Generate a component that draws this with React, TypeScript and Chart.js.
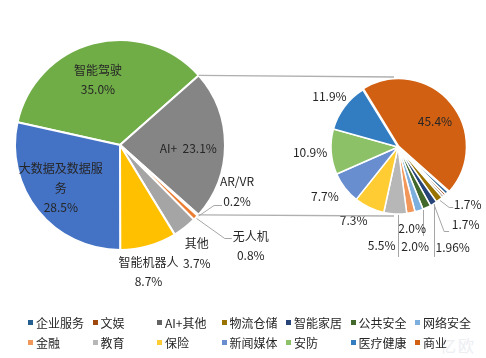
import React, { useEffect, useRef } from 'react';
import { Chart, registerables } from 'chart.js';

Chart.register(...registerables);

const FONT = '"Noto Sans CJK SC", "Noto Sans", sans-serif';

// ---------- data ----------
const mainCategories = ['智能驾驶', 'AI+', 'AR/VR', '无人机', '其他', '智能机器人', '大数据及数据服务'];
const mainValues = [35.0, 23.1, 0.2, 0.8, 3.7, 8.7, 28.5];
const mainColors = ['#70AD47', '#858585', '#5B9BD5', '#ED7D31', '#A5A5A5', '#FFC000', '#4472C4'];
const breakoutIndex = 1; // "AI+" is split into the secondary pie

const subCategories = ['企业服务', '文娱', 'AI+其他', '物流仓储', '智能家居', '公共安全', '网络安全', '金融', '教育', '保险', '新闻媒体', '安防', '医疗健康', '商业'];
const subValues = [0.8, 0.6, 0.54, 1.7, 1.7, 1.96, 2.0, 2.0, 5.5, 7.3, 7.7, 10.9, 11.9, 45.4];
const subColors = ['#255E91', '#9E480E', '#636363', '#997300', '#264478', '#43682B', '#7CAFDD', '#F1975A', '#B7B7B7', '#FFCD33', '#698ED0', '#8CC168', '#327DC2', '#D26012'];
const subShowLabel = [false, false, false, true, true, true, true, true, true, true, true, true, true, true];

// ---------- label layout (styles / placement only) ----------
type Leader = { type: 'e' | 'v'; ex: number; ey: number; h?: number };
type Place = { rf: number; dx: number; dy: number; inline?: boolean; wrap?: number; leader?: Leader } | null;

const mainLabelPlace: Place[] = [
  { rf: 0.65, dx: -5, dy: 1 },
  { rf: 0.65, dx: 0, dy: 3, inline: true },
  { rf: 1, dx: 39, dy: -24, leader: { type: 'e', ex: -15, ey: 13.5, h: 8 } },
  { rf: 1, dx: 55, dy: 28, leader: { type: 'e', ex: -19, ey: -7.5, h: 7 } },
  { rf: 1, dx: 12, dy: 26 },
  { rf: 1, dx: 0, dy: 26 },
  { rf: 0.65, dx: -6, dy: 0.5, wrap: 7 },
];

const subLabelPlace: Place[] = [
  null, null, null,
  { rf: 1, dx: 28.3, dy: 5.2, leader: { type: 'e', ex: -14.5, ey: 1.7, h: 4 } },
  { rf: 1, dx: 32.1, dy: 21.1, leader: { type: 'e', ex: -16.5, ey: 6, h: 5 } },
  { rf: 1, dx: 25.9, dy: 40.4, leader: { type: 'v', ex: -18.5, ey: 9 } },
  { rf: 1, dx: -6.9, dy: 17.4, leader: { type: 'v', ex: 11, ey: 8 } },
  { rf: 1, dx: 4.2, dy: 33.5 },
  { rf: 1, dx: -13.6, dy: 31.1, leader: { type: 'v', ex: 16.5, ey: 12 } },
  { rf: 1.3, dx: -7, dy: -5 },
  { rf: 1.3, dx: -4, dy: -4 },
  { rf: 1.3, dx: -1, dy: -1 },
  { rf: 1.28, dx: 0, dy: 0.6 },
  { rf: 0.66, dx: 3, dy: 3 },
];
const subOffsets = subValues.map((_, i) => (i === subValues.length - 1 ? 4 : 0));

const LH = 19.5;

function fmtSub(v: number): string {
  const tenth = Math.abs(v * 10 - Math.round(v * 10)) < 1e-6;
  return (tenth ? v.toFixed(1) : v.toFixed(2)) + '%';
}

function mainLines(i: number): string[] {
  const name = mainCategories[i];
  const pct = mainValues[i].toFixed(1) + '%';
  const p = mainLabelPlace[i];
  if (p && p.inline) return [name + '  ' + pct];
  const w = (p && p.wrap) || 99;
  const chars = Array.from(name);
  const out: string[] = [];
  for (let k = 0; k < chars.length; k += w) out.push(chars.slice(k, k + w).join(''));
  out.push(pct);
  return out;
}

function subLines(i: number): string[] {
  return subShowLabel[i] ? [fmtSub(subValues[i])] : [];
}

function makeLabelPlugin(id: string, getLines: (i: number) => string[], places: Place[]) {
  return {
    id,
    afterDatasetsDraw(chart: any) {
      const ctx: CanvasRenderingContext2D = chart.ctx;
      const meta = chart.getDatasetMeta(0);
      ctx.save();
      ctx.font = `12px ${FONT}`;
      ctx.textAlign = 'center';
      ctx.textBaseline = 'middle';
      meta.data.forEach((el: any, i: number) => {
        const p = places[i];
        const lines = getLines(i);
        if (!p || !lines.length) return;
        const { x, y, startAngle, endAngle, outerRadius } = el.getProps(['x', 'y', 'startAngle', 'endAngle', 'outerRadius'], true);
        const mid = (startAngle + endAngle) / 2;
        const ax = x + Math.cos(mid) * outerRadius * p.rf + p.dx;
        const ay = y + Math.sin(mid) * outerRadius * p.rf + p.dy;
        if (p.leader) {
          const L = p.leader;
          ctx.strokeStyle = '#a6a6a6';
          ctx.lineWidth = 1;
          ctx.beginPath();
          if (L.type === 'v') {
            const lx = Math.round(ax + L.ex) + 0.5;
            const dxc = lx - x;
            const y0 = y + Math.sqrt(Math.max(0, outerRadius * outerRadius - dxc * dxc)) + 1;
            ctx.moveTo(lx, y0);
            ctx.lineTo(lx, ay + L.ey);
          } else {
            const sx = x + Math.cos(mid) * (outerRadius + 1);
            const sy = y + Math.sin(mid) * (outerRadius + 1);
            const exx = ax + L.ex;
            const eyy = Math.round(ay + L.ey) + 0.5;
            ctx.moveTo(sx, sy);
            ctx.lineTo(exx - (L.h || 6), eyy);
            ctx.lineTo(exx, eyy);
          }
          ctx.stroke();
        }
        ctx.fillStyle = '#262626';
        lines.forEach((t, k) => {
          ctx.fillText(t, ax, ay + (k - (lines.length - 1) / 2) * LH);
        });
      });
      ctx.restore();
    },
  };
}

function makeConnectorPlugin(getSecondary: () => any) {
  return {
    id: 'connectors',
    afterDatasetsDraw(chart: any) {
      const sec = getSecondary();
      if (!sec) return;
      const arc = chart.getDatasetMeta(0).data[breakoutIndex];
      const s0 = sec.getDatasetMeta(0).data[0];
      if (!arc || !s0) return;
      const a = arc.getProps(['x', 'y', 'startAngle', 'endAngle', 'outerRadius'], true);
      const b = s0.getProps(['x', 'y', 'outerRadius'], true);
      const ctx: CanvasRenderingContext2D = chart.ctx;
      ctx.save();
      ctx.strokeStyle = '#b0b0b0';
      ctx.lineWidth = 1.3;
      ctx.beginPath();
      ctx.moveTo(a.x + Math.cos(a.startAngle) * a.outerRadius, a.y + Math.sin(a.startAngle) * a.outerRadius);
      ctx.lineTo(b.x - 4, b.y - b.outerRadius - 3);
      ctx.moveTo(a.x + Math.cos(a.endAngle) * a.outerRadius, a.y + Math.sin(a.endAngle) * a.outerRadius);
      ctx.lineTo(b.x - 4, b.y + b.outerRadius + 2);
      ctx.stroke();
      ctx.restore();
    },
  };
}

export default function App() {
  const leftRef = useRef<HTMLCanvasElement>(null);
  const rightRef = useRef<HTMLCanvasElement>(null);

  useEffect(() => {
    document.body.style.margin = '0';
    const right = new Chart(rightRef.current as HTMLCanvasElement, {
      type: 'pie',
      data: {
        labels: subCategories,
        datasets: [
          {
            data: subValues,
            backgroundColor: subColors,
            borderColor: '#ffffff',
            borderWidth: 1.5,
            offset: subOffsets,
          } as any,
        ],
      },
      options: {
        responsive: false,
        animation: false,
        events: [],
        rotation: 131.8,
        radius: 67,
        layout: { padding: { left: 310, right: 0, top: 0, bottom: 6 } },
        plugins: { legend: { display: false }, tooltip: { enabled: false } },
      } as any,
      plugins: [makeLabelPlugin('subLabels', subLines, subLabelPlace)],
    });
    const left = new Chart(leftRef.current as HTMLCanvasElement, {
      type: 'pie',
      data: {
        labels: mainCategories,
        datasets: [
          {
            data: mainValues,
            backgroundColor: mainColors,
            borderColor: '#ffffff',
            borderWidth: 2,
          } as any,
        ],
      },
      options: {
        responsive: false,
        animation: false,
        events: [],
        rotation: -77.5,
        radius: 105,
        layout: { padding: { left: 0, right: 246, top: 0, bottom: 10 } },
        plugins: { legend: { display: false }, tooltip: { enabled: false } },
      } as any,
      plugins: [makeConnectorPlugin(() => right), makeLabelPlugin('mainLabels', mainLines, mainLabelPlace)],
    });
    return () => {
      left.destroy();
      right.destroy();
    };
  }, []);

  return (
    <div style={{ position: 'relative', width: 486, height: 358, background: '#fff', fontFamily: FONT, overflow: 'hidden' }}>
      <canvas ref={rightRef} width={486} height={300} style={{ position: 'absolute', left: 0, top: 0 }} />
      <canvas ref={leftRef} width={486} height={300} style={{ position: 'absolute', left: 0, top: 0 }} />
      <div
        style={{
          position: 'absolute',
          left: 440,
          top: 333,
          fontSize: 16,
          color: '#eceef2',
          letterSpacing: 2,
        }}
      >
        亿欧
      </div>
      <div
        style={{
          position: 'absolute',
          left: 28,
          top: 313,
          display: 'grid',
          gridTemplateColumns: 'repeat(7, 64.5px)',
          gridAutoRows: '20px',
        }}
      >
        {subCategories.map((name, i) => (
          <div key={name} style={{ display: 'flex', alignItems: 'center', whiteSpace: 'nowrap', fontSize: 12, color: '#262626', lineHeight: '20px' }}>
            <span style={{ display: 'inline-block', width: 5, height: 5, background: subColors[i], marginRight: 3, marginTop: -1 }} />
            <span>{name}</span>
          </div>
        ))}
      </div>
    </div>
  );
}
